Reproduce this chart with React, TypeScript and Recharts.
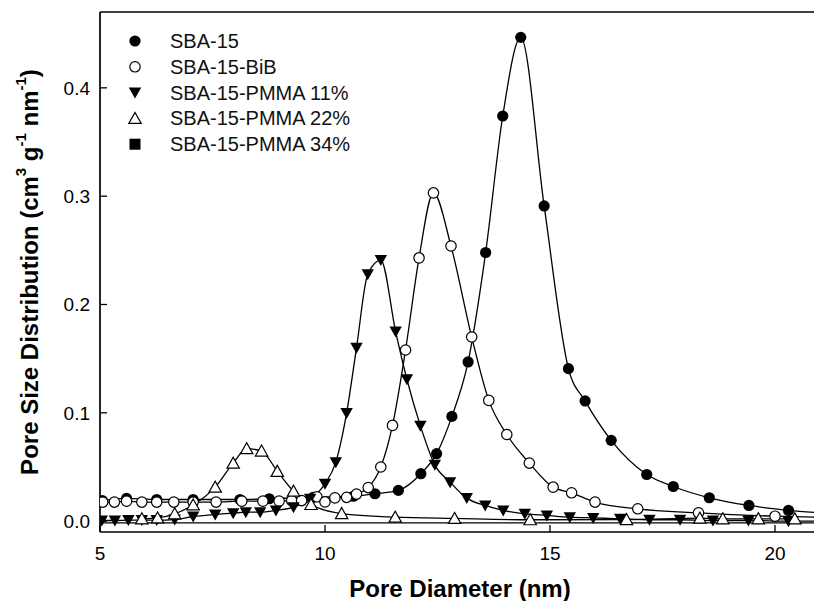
import React from "react";
import { ComposedChart, Line, XAxis, YAxis, ReferenceLine, Label } from "recharts";

// pore size distributions (x in nm, y in cm3 g-1 nm-1)
const sba15X = [5.05, 5.59, 6.26, 7.07, 8.11, 8.76, 9.74, 10.63, 11.11, 11.63, 12.13, 12.48, 12.82, 13.18, 13.57, 13.95, 14.35, 14.87, 15.41, 15.78, 16.36, 17.15, 17.74, 18.54, 19.42, 20.3, 21.2];
const sba15Y = [0.019, 0.021, 0.02, 0.02, 0.02, 0.0207, 0.022, 0.023, 0.0253, 0.0284, 0.0438, 0.0623, 0.0967, 0.147, 0.248, 0.374, 0.4466, 0.291, 0.1408, 0.111, 0.0746, 0.0431, 0.032, 0.0216, 0.0145, 0.0099, 0.0072];

const bibX = [5.06, 5.32, 5.59, 5.93, 6.26, 6.64, 7.07, 7.58, 8.15, 8.62, 8.98, 9.26, 9.48, 9.82, 10.0, 10.22, 10.48, 10.7, 10.96, 11.24, 11.5, 11.79, 12.09, 12.41, 12.8, 13.26, 13.64, 14.04, 14.54, 15.07, 15.48, 16.0, 16.95, 18.3, 20.0, 21.2];
const bibY = [0.0176, 0.0176, 0.0185, 0.0176, 0.0176, 0.0176, 0.0176, 0.0176, 0.0185, 0.0185, 0.0185, 0.019, 0.019, 0.0225, 0.0178, 0.0215, 0.022, 0.025, 0.031, 0.05, 0.0884, 0.158, 0.243, 0.303, 0.254, 0.17, 0.1115, 0.08, 0.0536, 0.0314, 0.0262, 0.0176, 0.0114, 0.0077, 0.0046, 0.0035];

const pmma11X = [5.04, 5.33, 5.63, 5.93, 6.26, 6.66, 7.07, 7.56, 7.96, 8.24, 8.56, 8.91, 9.3, 9.67, 10.0, 10.24, 10.48, 10.7, 10.95, 11.24, 11.57, 11.82, 12.12, 12.44, 12.78, 13.15, 13.56, 13.96, 14.44, 14.93, 15.44, 15.96, 16.56, 17.21, 17.89, 18.62, 19.41, 20.3, 21.2];
const pmma11Y = [0.0006, 0.0006, 0.001, 0.001, 0.001, 0.0015, 0.0043, 0.0062, 0.0074, 0.0083, 0.0083, 0.0099, 0.0129, 0.0207, 0.0345, 0.0545, 0.0998, 0.16, 0.228, 0.241, 0.175, 0.131, 0.088, 0.052, 0.036, 0.0213, 0.0145, 0.0099, 0.0068, 0.0053, 0.0037, 0.003, 0.0022, 0.0013, 0.0013, 0.0006, 0.0006, 0.0, 0.0];

const pmma22X = [5.93, 6.28, 6.66, 7.07, 7.56, 7.96, 8.26, 8.59, 8.94, 9.3, 9.69, 10.37, 11.56, 12.88, 14.56, 16.7, 18.33, 18.84, 19.63, 20.44];
const pmma22Y = [0.0022, 0.003, 0.0068, 0.015, 0.0314, 0.0536, 0.0669, 0.0647, 0.046, 0.0277, 0.0154, 0.007, 0.0037, 0.0025, 0.0013, 0.0015, 0.0028, 0.0022, 0.0022, 0.0022];

const pmma34X = [5.0, 7.0, 9.0, 11.0, 13.0, 15.0, 17.0, 19.0, 21.2];
const pmma34Y = [-0.0015, -0.0015, -0.0015, -0.0015, -0.0015, -0.0015, -0.0015, -0.0015, -0.0015];

const xTicks = [5, 10, 15, 20];
const yTicks = [0.0, 0.1, 0.2, 0.3, 0.4];
const X_DOMAIN: [number, number] = [5, 21];
const Y_DOMAIN: [number, number] = [-0.01, 0.47];

const FONT = '"Liberation Sans", Arial, Helvetica, sans-serif';

type Marker = "filledCircle" | "openCircle" | "filledDown" | "openUp" | "filledSquare";

const toPoints = (xs: number[], ys: number[]) => xs.map((x, i) => ({ x, y: ys[i] }));

function MarkerShape({ kind, cx, cy }: { kind: Marker; cx: number; cy: number }) {
  if (cx == null || cy == null || isNaN(cx) || isNaN(cy)) return null;
  switch (kind) {
    case "filledCircle":
      return <circle cx={cx} cy={cy} r={5.6} fill="#000" />;
    case "openCircle":
      return <circle cx={cx} cy={cy} r={5.2} fill="#fff" stroke="#000" strokeWidth={1.2} />;
    case "filledDown":
      return <polygon points={`${cx - 6.2},${cy - 5} ${cx + 6.2},${cy - 5} ${cx},${cy + 6}`} fill="#000" />;
    case "openUp":
      return (
        <polygon
          points={`${cx - 6.2},${cy + 5} ${cx + 6.2},${cy + 5} ${cx},${cy - 6}`}
          fill="#fff"
          stroke="#000"
          strokeWidth={1.2}
        />
      );
    case "filledSquare":
      return <rect x={cx - 5.5} y={cy - 5.5} width={11} height={11} fill="#000" />;
  }
  return null;
}

// drawing order: the flat 34% trace sits underneath everything
const series = [
  { name: "SBA-15-PMMA 34%", data: toPoints(pmma34X, pmma34Y), marker: "filledSquare" as Marker, dots: false },
  { name: "SBA-15", data: toPoints(sba15X, sba15Y), marker: "filledCircle" as Marker, dots: true },
  { name: "SBA-15-BiB", data: toPoints(bibX, bibY), marker: "openCircle" as Marker, dots: true },
  { name: "SBA-15-PMMA 11%", data: toPoints(pmma11X, pmma11Y), marker: "filledDown" as Marker, dots: true },
  { name: "SBA-15-PMMA 22%", data: toPoints(pmma22X, pmma22Y), marker: "openUp" as Marker, dots: true },
];

const legendItems: { name: string; marker: Marker }[] = [
  { name: "SBA-15", marker: "filledCircle" },
  { name: "SBA-15-BiB", marker: "openCircle" },
  { name: "SBA-15-PMMA 11%", marker: "filledDown" },
  { name: "SBA-15-PMMA 22%", marker: "openUp" },
  { name: "SBA-15-PMMA 34%", marker: "filledSquare" },
];

const XTitle = (props: any) => {
  const vb = props.viewBox || { x: 100, y: 532, width: 720, height: 69 };
  return (
    <text
      x={vb.x + vb.width / 2}
      y={vb.y + 56}
      textAnchor="middle"
      dominantBaseline="central"
      fontFamily={FONT}
      fontWeight="bold"
      fontSize={24}
      fill="#000"
    >
      Pore Diameter (nm)
    </text>
  );
};

const YTitle = (props: any) => {
  const vb = props.viewBox || { x: 0, y: 12, width: 100, height: 520 };
  const cx = vb.x + 29;
  const cy = vb.y + vb.height / 2;
  return (
    <text
      x={cx}
      y={cy}
      transform={`rotate(-90 ${cx} ${cy})`}
      textAnchor="middle"
      dominantBaseline="central"
      fontFamily={FONT}
      fontWeight="bold"
      fontSize={24}
      fill="#000"
    >
      Pore Size Distribution (cm
      <tspan dy={-9} fontSize={15}>3</tspan>
      <tspan dy={9}> g</tspan>
      <tspan dy={-9} fontSize={15}>-1</tspan>
      <tspan dy={9}> nm</tspan>
      <tspan dy={-9} fontSize={15}>-1</tspan>
      <tspan dy={9}>)</tspan>
    </text>
  );
};

export default function App() {
  return (
    <div
      style={{
        position: "fixed",
        left: 0,
        top: 0,
        width: 814,
        height: 601,
        overflow: "hidden",
        background: "#fff",
      }}
    >
      <ComposedChart width={830} height={601} margin={{ top: 12, right: 10, bottom: 0, left: 0 }}>
        <XAxis
          type="number"
          dataKey="x"
          domain={X_DOMAIN}
          ticks={xTicks}
          allowDataOverflow
          height={69}
          tickSize={-7}
          tickMargin={21.5}
          tick={{ fill: "#000", fontSize: 19, fontFamily: FONT }}
          axisLine={{ stroke: "#000", strokeWidth: 1.7 }}
          tickLine={{ stroke: "#000", strokeWidth: 1.3 }}
        >
          <Label content={XTitle} />
        </XAxis>
        <YAxis
          type="number"
          dataKey="y"
          domain={Y_DOMAIN}
          ticks={yTicks}
          allowDataOverflow
          width={100}
          tickSize={-7}
          tickMargin={17}
          tickFormatter={(v: number) => v.toFixed(1)}
          tick={{ fill: "#000", fontSize: 19, fontFamily: FONT }}
          axisLine={{ stroke: "#000", strokeWidth: 1.7 }}
          tickLine={{ stroke: "#000", strokeWidth: 1.3 }}
        >
          <Label content={YTitle} />
        </YAxis>
        <ReferenceLine y={Y_DOMAIN[1]} stroke="#000" strokeWidth={1.7} />
        {series.map((s) => (
          <Line
            key={s.name}
            name={s.name}
            data={s.data}
            dataKey="y"
            type="monotone"
            stroke="#000"
            strokeWidth={1.3}
            isAnimationActive={false}
            activeDot={false}
            dot={
              s.dots
                ? (p: any) => <MarkerShape key={`${s.name}-${p.index}`} kind={s.marker} cx={p.cx} cy={p.cy} />
                : false
            }
          />
        ))}
      </ComposedChart>
      <svg
        width={400}
        height={170}
        style={{ position: "absolute", left: 0, top: 0, pointerEvents: "none" }}
      >
        {legendItems.map((it, i) => {
          const y = 41 + i * 25.8;
          return (
            <g key={it.name}>
              <MarkerShape kind={it.marker} cx={135} cy={y} />
              <text x={170} y={y} dominantBaseline="central" fontFamily={FONT} fontSize={20} fill="#111">
                {it.name}
              </text>
            </g>
          );
        })}
      </svg>
    </div>
  );
}
